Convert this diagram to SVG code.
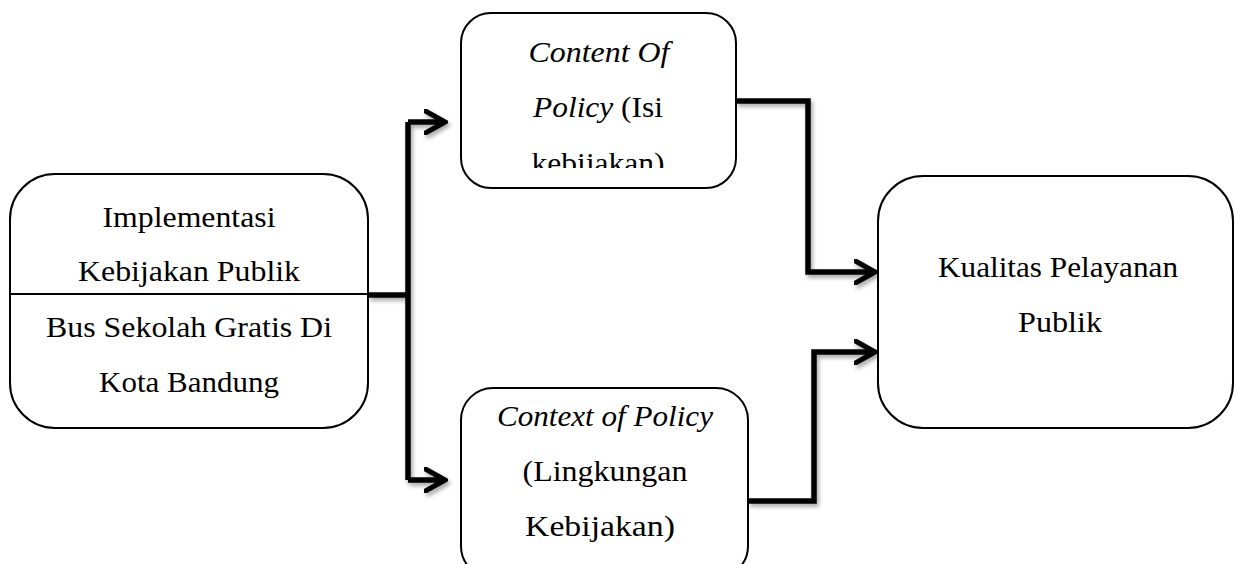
<svg xmlns="http://www.w3.org/2000/svg" width="1235" height="564" viewBox="0 0 1235 564">
  <style>
    .box { fill: #ffffff; stroke: #000000; stroke-width: 2; }
    .txt { font-family: 'Liberation Serif', 'Times New Roman', serif; font-size: 29px; fill: #000000; text-anchor: middle; }
    .it { font-style: italic; }
    .conn { fill: none; stroke: #000000; stroke-width: 5.5; stroke-linejoin: miter; }
  </style>
  <defs>
    <marker id="arrow" viewBox="0 0 24 26" markerWidth="24" markerHeight="26" refX="21" refY="13" orient="auto" markerUnits="userSpaceOnUse">
      <path d="M1.5,2 L21,13 L1.5,24" fill="none" stroke="#000000" stroke-width="5" stroke-linejoin="miter" stroke-linecap="round"/>
    </marker>
    <filter id="shadow" x="-10%" y="-10%" width="130%" height="130%">
      <feDropShadow dx="2" dy="3" stdDeviation="2" flood-color="#000000" flood-opacity="0.35"/>
    </filter>
    <clipPath id="clipContent">
      <rect x="461" y="13" width="275" height="155"/>
    </clipPath>
  </defs>
  <rect width="1235" height="564" fill="#ffffff"/>

  <g id="connectors" filter="url(#shadow)">
    <path class="conn" d="M368,295 H408"/>
    <path class="conn" d="M408,122 V480"/>
    <path class="conn" d="M408,122 H445" marker-end="url(#arrow)"/>
    <path class="conn" d="M408,480 H445" marker-end="url(#arrow)"/>
    <path class="conn" d="M736,101 H808 V272 H875" marker-end="url(#arrow)"/>
    <path class="conn" d="M748,501 H814 V352 H875" marker-end="url(#arrow)"/>
  </g>

  <g id="node-implementasi">
    <rect class="box" x="10" y="174" width="358" height="254" rx="45" ry="45"/>
    <line x1="10" y1="294" x2="368" y2="294" stroke="#000000" stroke-width="2"/>
    <text class="txt" x="189" y="227" textLength="173" lengthAdjust="spacingAndGlyphs">Implementasi</text>
    <text class="txt" x="189" y="281" textLength="222" lengthAdjust="spacingAndGlyphs">Kebijakan Publik</text>
    <text class="txt" x="189" y="337" textLength="286" lengthAdjust="spacingAndGlyphs">Bus Sekolah Gratis Di</text>
    <text class="txt" x="189" y="392" textLength="180" lengthAdjust="spacingAndGlyphs">Kota Bandung</text>
  </g>

  <g id="node-content">
    <rect class="box" x="461" y="13" width="275" height="175" rx="30" ry="30"/>
    <text class="txt it" x="599" y="62" textLength="141" lengthAdjust="spacingAndGlyphs">Content Of</text>
    <text class="txt" x="598" y="117" textLength="130" lengthAdjust="spacingAndGlyphs"><tspan class="it">Policy</tspan> (Isi</text>
    <g clip-path="url(#clipContent)">
      <text class="txt" x="598" y="173" textLength="133" lengthAdjust="spacingAndGlyphs">kebijakan)</text>
    </g>
  </g>

  <g id="node-context">
    <rect class="box" x="461" y="388" width="287" height="190" rx="32" ry="32"/>
    <text class="txt it" x="605" y="426" textLength="216" lengthAdjust="spacingAndGlyphs">Context of Policy</text>
    <text class="txt" x="605" y="481" textLength="165" lengthAdjust="spacingAndGlyphs">(Lingkungan</text>
    <text class="txt" x="600" y="536" textLength="150" lengthAdjust="spacingAndGlyphs">Kebijakan)</text>
  </g>

  <g id="node-kualitas">
    <rect class="box" x="878" y="176" width="355" height="252" rx="45" ry="45"/>
    <text class="txt" x="1058" y="277" textLength="240" lengthAdjust="spacingAndGlyphs">Kualitas Pelayanan</text>
    <text class="txt" x="1060" y="332" textLength="84" lengthAdjust="spacingAndGlyphs">Publik</text>
  </g>
</svg>
